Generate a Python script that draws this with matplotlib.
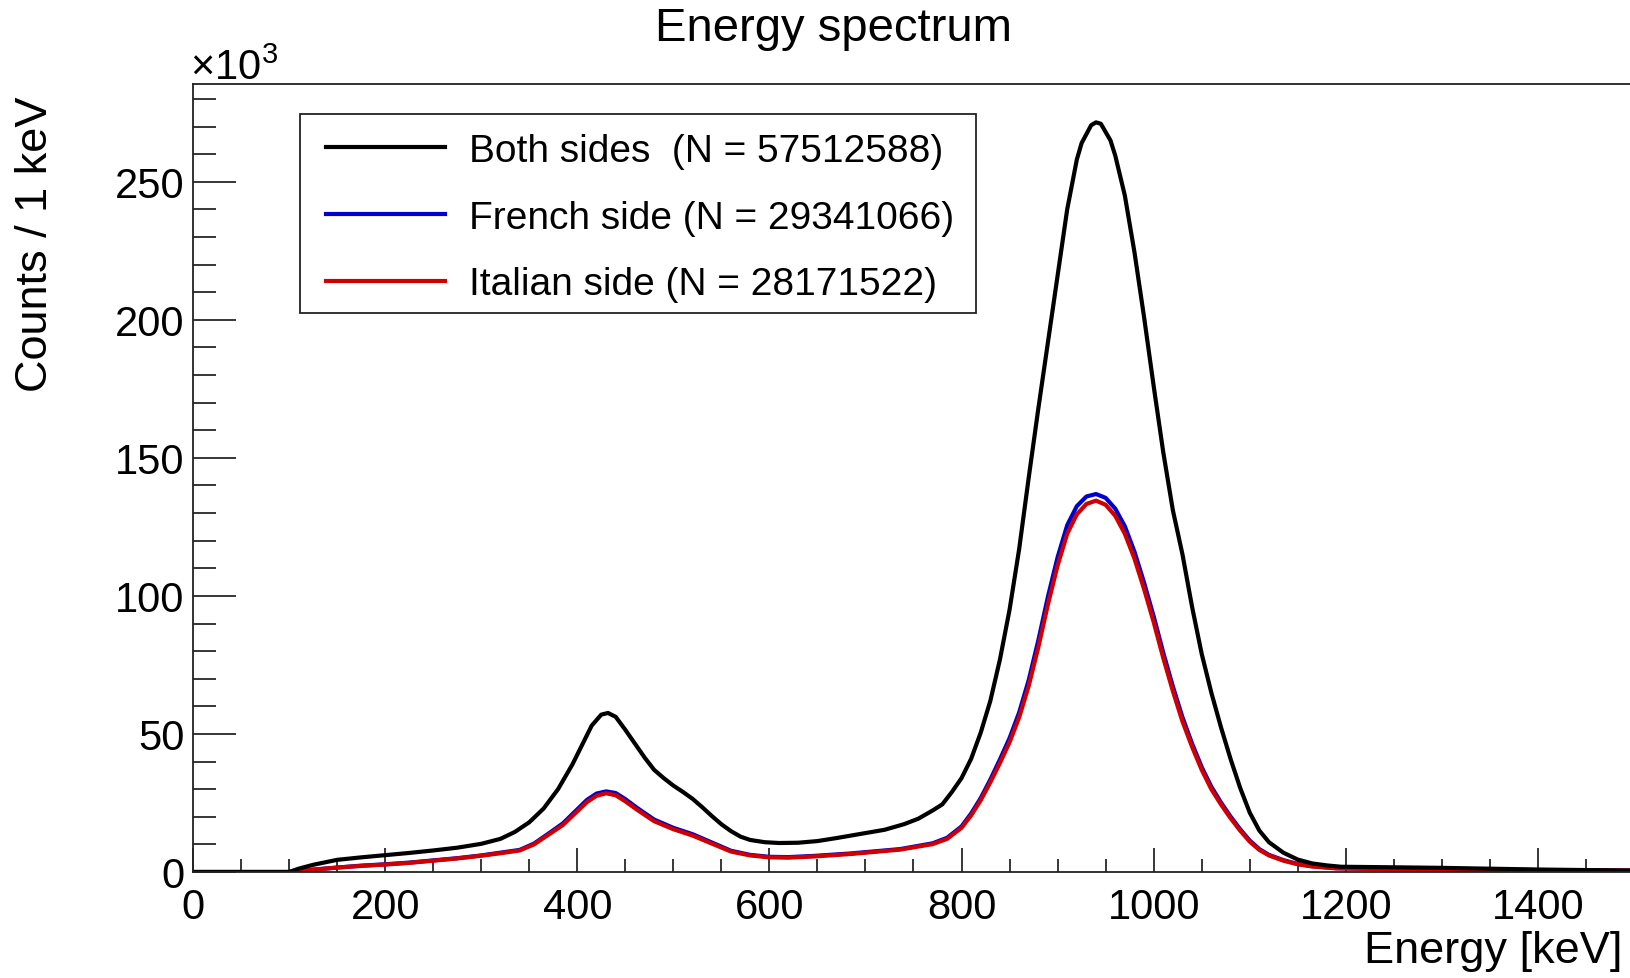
import matplotlib
matplotlib.use("Agg")
import matplotlib.pyplot as plt
from matplotlib.patches import Rectangle
from matplotlib.ticker import MultipleLocator

plt.rcParams["font.family"] = ["Liberation Sans", "DejaVu Sans"]
plt.rcParams["mathtext.fontset"] = "custom"
plt.rcParams["mathtext.rm"] = "Liberation Sans"
plt.rcParams["mathtext.it"] = "Liberation Sans"

# spectrum samples, energy in keV, counts per keV in thousands
both_e = [0, 100, 110, 125, 150, 175, 200, 225, 250, 275, 300, 320, 335, 350,
          365, 380, 395, 405, 415, 425, 432, 440, 450, 460, 470, 480, 490, 500,
          510, 520, 530, 540, 550, 560, 570, 580, 595, 610, 630, 650, 670, 700,
          720, 740, 755, 770, 780, 790, 800, 810, 820, 830, 840, 850, 860, 870,
          880, 890, 900, 910, 920, 925, 935, 940, 945, 955, 960, 970, 980, 990,
          1000, 1010, 1020, 1030, 1040, 1050, 1060, 1070, 1080, 1090, 1100,
          1110, 1120, 1135, 1150, 1165, 1180, 1195, 1250, 1300, 1350, 1400,
          1450, 1500]
both_k = [0, 0, 1.2, 2.6, 4.4, 5.3, 6.1, 6.9, 7.8, 8.8, 10.2, 12.0, 14.5, 18,
          23, 30, 39, 46, 53, 57, 57.6, 56.2, 51.5, 46.5, 41.5, 37, 34, 31.3,
          29, 26.5, 23.5, 20.3, 17.3, 14.8, 12.8, 11.6, 10.8, 10.5, 10.6, 11.2,
          12.3, 14.1, 15.3, 17.3, 19.3, 22.3, 24.5, 29, 34, 41, 50.5, 62, 77,
          95, 117, 143, 168, 192, 216, 240, 258, 264, 270.5, 271.5, 271, 265,
          259.5, 245, 224.5, 201, 176, 152, 131, 115, 96, 79, 65, 52.5, 41,
          30.5, 21.5, 15, 10.8, 7, 4.5, 3.1, 2.4, 1.9, 1.7, 1.5, 1.2, 0.9, 0.7,
          0.5]

side_e = [0, 100, 110, 130, 150, 175, 200, 225, 250, 275, 300, 320, 340, 355,
          370, 385, 400, 410, 420, 430, 440, 450, 462, 480, 500, 520, 540, 560,
          580, 600, 620, 645, 684, 736, 770, 785, 800, 810, 820, 830, 840, 850,
          860, 870, 880, 890, 900, 910, 920, 930, 940, 950, 960, 970, 980, 990,
          1000, 1010, 1020, 1030, 1040, 1050, 1060, 1070, 1080, 1090, 1100,
          1110, 1120, 1135, 1150, 1165, 1190, 1250, 1300, 1400, 1500]
french_k = [0, 0, 0.4, 1.0, 1.6, 2.3, 2.8, 3.4, 4.2, 5.0, 6.0, 7.0, 8.0, 10.3,
            13.9, 17.6, 22.7, 26.1, 28.4, 29.2, 28.6, 26.4, 23.3, 19.0, 16.0,
            13.7, 10.7, 7.7, 6.2, 5.5, 5.4, 5.8, 6.7, 8.3, 10.4, 12.4, 16.5,
            21.2, 26.8, 33.5, 40.8, 48.5, 57.8, 69.6, 84, 99.8, 114, 125.6,
            132.5, 136, 136.9, 135.5, 131.6, 125.2, 116, 104.8, 92.6, 79.4,
            67.2, 56, 46.5, 38, 30.9, 25.2, 20.1, 15.5, 11.4, 8.3, 6.2, 4.3,
            2.9, 2.1, 1.4, 1.0, 0.9, 0.7, 0.5]
italian_k = [0, 0, 0.4, 1.0, 1.6, 2.2, 2.7, 3.3, 4.1, 4.9, 5.9, 6.8, 7.8, 10,
             13.5, 17, 22, 25.3, 27.6, 28.5, 27.8, 25.6, 22.6, 18.4, 15.5,
             13.2, 10.3, 7.4, 6.0, 5.3, 5.2, 5.6, 6.5, 8.1, 10.1, 12, 16, 20.5,
             26, 32.5, 39.5, 47, 56, 67.5, 81.5, 97, 111, 122.5, 129.5, 133.3,
             134.5, 133, 129, 122.5, 113.5, 102.5, 90.5, 77.5, 65.5, 54.5,
             45.3, 37, 30, 24.5, 19.5, 15, 11, 8, 6, 4.1, 2.8, 2.0, 1.3, 1.0,
             0.9, 0.7, 0.5]

labels = ["Both sides  (N = 57512588)",
          "French side (N = 29341066)",
          "Italian side (N = 28171522)"]
colors = ["black", "#0000d0", "#d00000"]

W, H = 1631, 979
fig = plt.figure(figsize=(W / 100, H / 100), dpi=100)
ax = fig.add_axes([193 / W, 1 - 873 / H, (1634 - 193) / W, (873 - 85) / H])

lw = 3.0
l_fr, = ax.plot(side_e, french_k, color=colors[1], lw=lw)
l_it, = ax.plot(side_e, italian_k, color=colors[2], lw=lw)
l_both, = ax.plot(both_e, both_k, color=colors[0], lw=lw)

ax.set_xlim(0, 1500)
ax.set_ylim(0, 285.4)

ax.spines["right"].set_visible(False)
for s in ["left", "bottom", "top"]:
    ax.spines[s].set_linewidth(1.3)
    ax.spines[s].set_color("#222222")

ax.xaxis.set_major_locator(MultipleLocator(200))
ax.xaxis.set_minor_locator(MultipleLocator(50))
ax.yaxis.set_major_locator(MultipleLocator(50))
ax.yaxis.set_minor_locator(MultipleLocator(10))
ax.tick_params(axis="x", which="major", direction="in", length=17, width=1.1,
               labelsize=30, pad=11, top=False)
ax.tick_params(axis="x", which="minor", direction="in", length=9.5, width=1.1,
               top=False)
ax.tick_params(axis="y", which="major", direction="in", length=31, width=1.1,
               labelsize=30, pad=6, right=False)
ax.tick_params(axis="y", which="minor", direction="in", length=16.5, width=1.1,
               right=False)

fig.text(834 / W, 1 - 29 / H, "Energy spectrum", fontsize=34,
         ha="center", va="center")
fig.text(1623 / W, 1 - 952 / H, "Energy [keV]", fontsize=32.5,
         ha="right", va="center")
fig.text(36 / W, 1 - 97 / H, "Counts / 1 keV", fontsize=32.5, rotation=90,
         ha="center", va="top")
fig.text(190 / W, 1 - 80 / H, r"$\times10^{3}$", fontsize=30,
         ha="left", va="baseline")

leg = ax.legend([l_both, l_fr, l_it], labels, loc="upper left",
                bbox_to_anchor=(326 / W, 1 - 134 / H),
                bbox_transform=fig.transFigure, frameon=False, fontsize=28,
                borderpad=0, borderaxespad=0, handlelength=3.05,
                handletextpad=0.62, labelspacing=0.79)
fig.patches.append(Rectangle((300 / W, 1 - 314 / H), 676 / W, 199 / H,
                             transform=fig.transFigure, fill=False,
                             edgecolor="#222222", lw=1.3))

fig.savefig("out.png", dpi=100)
